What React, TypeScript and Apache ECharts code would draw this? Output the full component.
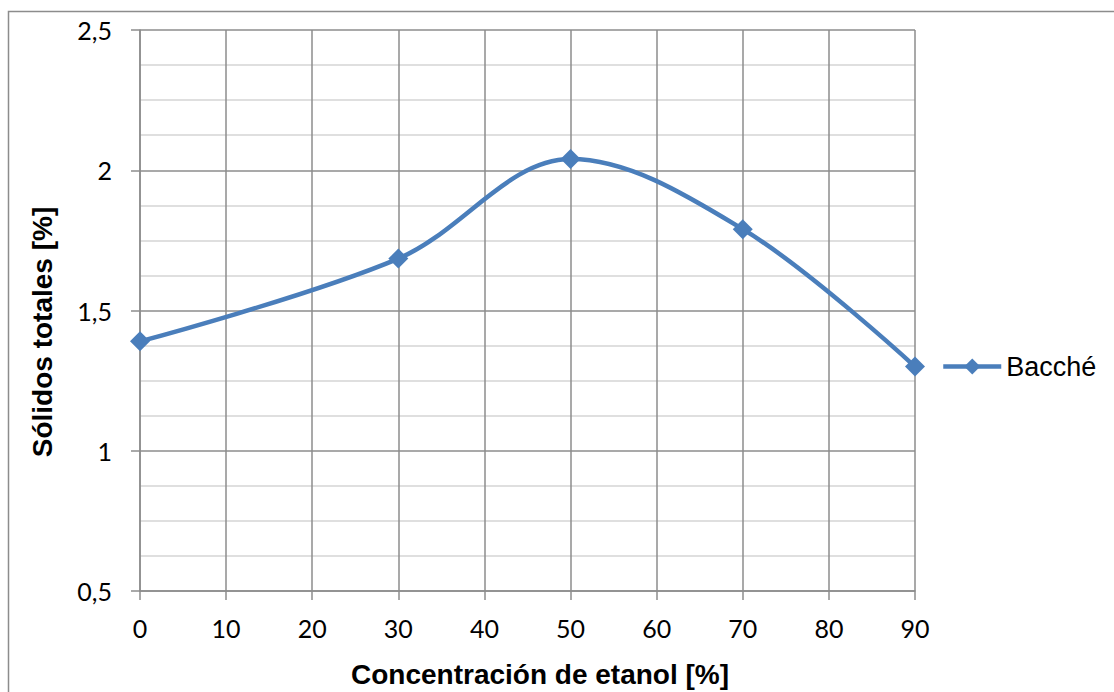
import React, { useEffect, useRef } from "react";
import * as echarts from "echarts";

const concentrations = [0, 30, 50, 70, 90];
const solidos = [1.39, 1.685, 2.04, 1.79, 1.3];
const seriesName = "Bacché";
const xTitle = "Concentración de etanol [%]";
const yTitle = "Sólidos totales [%]";

export default function App() {
  const ref = useRef<HTMLDivElement>(null);
  useEffect(() => {
    if (!ref.current) return;
    const chart = echarts.init(ref.current, null, { renderer: "svg" });
    const data = concentrations.map((x, i) => [x, solidos[i]]);
    const titleFont = "'Liberation Sans', Arial, sans-serif";
    chart.setOption({
      animation: false,
      backgroundColor: "#ffffff",
      grid: { left: 140, right: 199, top: 30, bottom: 101, containLabel: false },
      graphic: [
        {
          type: "polyline",
          shape: { points: [[8.5, 800], [8.5, 11.5], [1200, 11.5]] },
          style: { stroke: "#8c8c8c", lineWidth: 1.5, fill: "none" },
          silent: true,
        },
        {
          type: "text",
          x: 42,
          y: 332,
          rotation: Math.PI / 2,
          style: {
            text: yTitle,
            fontFamily: titleFont,
            fontWeight: "bold",
            fontSize: 28,
            fill: "#000",
            align: "center",
            verticalAlign: "middle",
          },
        },
        {
          type: "text",
          x: 540,
          y: 674,
          style: {
            text: xTitle,
            fontFamily: titleFont,
            fontWeight: "bold",
            fontSize: 28,
            fill: "#000",
            align: "center",
            verticalAlign: "middle",
          },
        },
      ],
      legend: {
        data: [seriesName],
        orient: "vertical",
        left: 936,
        top: 348,
        itemWidth: 58,
        itemHeight: 20,
        itemGap: 0,
        lineStyle: { width: 4.5, color: "#4a7ebb" },
        textStyle: {
          fontFamily: titleFont,
          fontSize: 27,
          color: "#000",
        },
      },
      xAxis: {
        type: "value",
        min: 0,
        max: 90,
        interval: 10,
        axisLine: { show: true, lineStyle: { color: "#8c8c8c", width: 1.5 } },
        axisTick: { show: true, length: 9, lineStyle: { color: "#8c8c8c", width: 1.5 } },
        axisLabel: {
          fontFamily: "Lato, 'Open Sans', sans-serif",
          fontSize: 25,
          color: "#000",
          margin: 24,
        },
        splitLine: { show: true, lineStyle: { color: "#8c8c8c", width: 1.5 } },
      },
      yAxis: {
        type: "value",
        min: 0.5,
        max: 2.5,
        interval: 0.5,
        axisLine: { show: true, lineStyle: { color: "#8c8c8c", width: 1.5 } },
        axisTick: { show: true, length: 9, lineStyle: { color: "#8c8c8c", width: 1.5 } },
        axisLabel: {
          fontFamily: "Lato, 'Open Sans', sans-serif",
          fontSize: 25,
          color: "#000",
          margin: 28,
          formatter: (v: number) => String(v).replace(".", ","),
        },
        splitLine: { show: true, lineStyle: { color: "#8c8c8c", width: 1.5 } },
        minorTick: { show: false, splitNumber: 4 },
        minorSplitLine: { show: true, lineStyle: { color: "#d4d4d4", width: 1.5 } },
      },
      series: [
        {
          name: seriesName,
          type: "line",
          data,
          smooth: 0.35,
          symbol: "diamond",
          symbolSize: 20,
          lineStyle: { color: "#4a7ebb", width: 4.5 },
          itemStyle: { color: "#4a7ebb" },
        },
      ],
    });
    return () => chart.dispose();
  }, []);
  return (
    <div
      ref={ref}
      style={{ position: "absolute", left: 0, top: 0, width: 1114, height: 692 }}
    />
  );
}
